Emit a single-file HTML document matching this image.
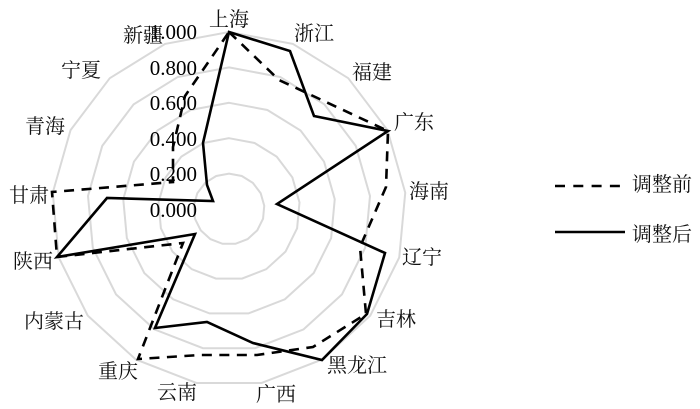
<!DOCTYPE html>
<html>
<head>
<meta charset="utf-8">
<style>
html,body{margin:0;padding:0;background:#fff;width:700px;height:409px;overflow:hidden}
svg{display:block}
.n{font-family:"Liberation Serif",serif;font-size:21px;text-anchor:end;fill:#000}
.c{font-family:"Noto Serif CJK SC","Noto Serif CJK TC","Noto Serif CJK JP",serif;font-size:20px;text-anchor:middle;fill:#111}
.g{fill:none;stroke:#d9d9d9;stroke-width:2;vector-effect:non-scaling-stroke}
.s{fill:none;stroke:#000;stroke-width:2.6;stroke-linejoin:miter}
.d{fill:none;stroke:#000;stroke-width:2.6;stroke-dasharray:10 7.5}
</style>
</head>
<body>
<svg width="700" height="409" viewBox="0 0 700 409" xmlns="http://www.w3.org/2000/svg">
<g transform="translate(229,209)">
<polygon class="g" transform="scale(1.77)" points="0,-100 36.12,-93.25 67.37,-73.90 89.52,-44.57 99.57,-9.23 96.18,27.37 79.80,60.26 52.64,85.02 18.37,98.30 -18.37,98.30 -52.64,85.02 -79.80,60.26 -96.18,27.37 -99.57,-9.23 -89.52,-44.57 -67.37,-73.90 -36.12,-93.25"/>
<polygon class="g" transform="scale(1.416)" points="0,-100 36.12,-93.25 67.37,-73.90 89.52,-44.57 99.57,-9.23 96.18,27.37 79.80,60.26 52.64,85.02 18.37,98.30 -18.37,98.30 -52.64,85.02 -79.80,60.26 -96.18,27.37 -99.57,-9.23 -89.52,-44.57 -67.37,-73.90 -36.12,-93.25"/>
<polygon class="g" transform="scale(1.062)" points="0,-100 36.12,-93.25 67.37,-73.90 89.52,-44.57 99.57,-9.23 96.18,27.37 79.80,60.26 52.64,85.02 18.37,98.30 -18.37,98.30 -52.64,85.02 -79.80,60.26 -96.18,27.37 -99.57,-9.23 -89.52,-44.57 -67.37,-73.90 -36.12,-93.25"/>
<polygon class="g" transform="scale(.708)" points="0,-100 36.12,-93.25 67.37,-73.90 89.52,-44.57 99.57,-9.23 96.18,27.37 79.80,60.26 52.64,85.02 18.37,98.30 -18.37,98.30 -52.64,85.02 -79.80,60.26 -96.18,27.37 -99.57,-9.23 -89.52,-44.57 -67.37,-73.90 -36.12,-93.25"/>
<polygon class="g" transform="scale(.354)" points="0,-100 36.12,-93.25 67.37,-73.90 89.52,-44.57 99.57,-9.23 96.18,27.37 79.80,60.26 52.64,85.02 18.37,98.30 -18.37,98.30 -52.64,85.02 -79.80,60.26 -96.18,27.37 -99.57,-9.23 -89.52,-44.57 -67.37,-73.90 -36.12,-93.25"/>
</g>
<polygon class="d" points="229,32 279,80 326,102 388,131 386,187 360,247 366,314 313,347 257,355 200,355 138,359 183,243 57,257 52,192 173,182 173,147 185,96"/>
<polygon class="s" points="229,32 290,51 314,116 388,131 277,204 385,253 367,314 322,360 253,343 207,322 155,328 195,234 57,257 107,198 213,201 207,185 203,143"/>
<text class="n" x="197" y="39">1.000</text>
<text class="n" x="197" y="75">0.800</text>
<text class="n" x="197" y="110">0.600</text>
<text class="n" x="197" y="146">0.400</text>
<text class="n" x="197" y="181">0.200</text>
<text class="n" x="197" y="217">0.000</text>
<text class="c" x="229" y="26">上海</text>
<text class="c" x="314" y="40">浙江</text>
<text class="c" x="372" y="79">福建</text>
<text class="c" x="414" y="129">广东</text>
<text class="c" x="429" y="198">海南</text>
<text class="c" x="422" y="264">辽宁</text>
<text class="c" x="396" y="326">吉林</text>
<text class="c" x="357" y="372">黑龙江</text>
<text class="c" x="276" y="401">广西</text>
<text class="c" x="177" y="399">云南</text>
<text class="c" x="118" y="378">重庆</text>
<text class="c" x="54" y="328">内蒙古</text>
<text class="c" x="33" y="268">陕西</text>
<text class="c" x="29" y="202">甘肃</text>
<text class="c" x="45" y="133">青海</text>
<text class="c" x="81" y="77">宁夏</text>
<text class="c" x="143" y="42">新疆</text>
<line x1="555" y1="186" x2="621" y2="186" stroke="#000" stroke-width="2.6" stroke-dasharray="10 8.3"/>
<line x1="555" y1="232" x2="625" y2="232" stroke="#000" stroke-width="2.6"/>
<text class="c" x="662" y="191">调整前</text>
<text class="c" x="662" y="241">调整后</text>
</svg>
</body>
</html>
